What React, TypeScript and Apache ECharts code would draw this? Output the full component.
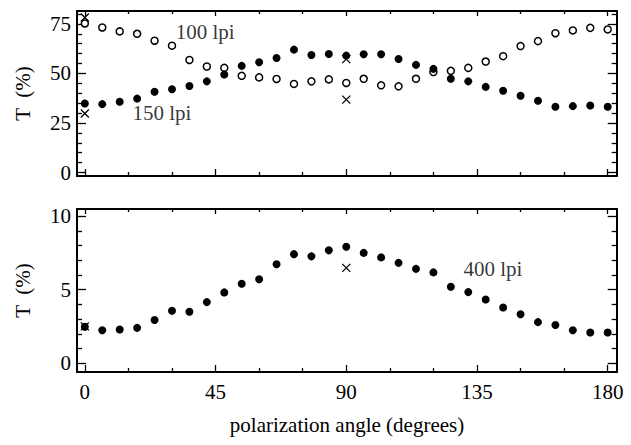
import React, { useEffect, useRef } from "react";
import * as echarts from "echarts";

// polarization angle (degrees)
const angles = [0, 6, 12, 18, 24, 30, 36, 42, 48, 54, 60, 66, 72, 78, 84, 90, 96, 102, 108, 114, 120, 126, 132, 138, 144, 150, 156, 162, 168, 174, 180];

// top panel: 100 lpi (open circles), 150 lpi (filled)
const t100 = [75.2, 73.2, 71.2, 70, 66.5, 64, 56.8, 53.5, 52.8, 48.8, 48, 47.2, 44.7, 46, 47, 45.2, 47.3, 44, 43.5, 47.3, 50.7, 51.3, 52.8, 56, 58.7, 63.8, 66.3, 70.3, 71.7, 73, 72.2];
const t150 = [34.8, 34.5, 35.7, 37.3, 40.8, 42, 43.7, 46, 49.5, 53.8, 55.6, 57.8, 62, 59.3, 59.8, 59, 59.7, 59.7, 57.3, 54.3, 52.3, 47.3, 46, 43.2, 41.3, 38.7, 36.2, 33.2, 33.5, 33.8, 33.2];
const topCrosses = [[0, 78.2], [0, 29.8], [90, 57.2], [90, 36.8]];

// bottom panel: 400 lpi
const t400 = [2.47, 2.24, 2.29, 2.4, 2.93, 3.56, 3.49, 4.15, 4.81, 5.4, 5.71, 6.73, 7.41, 7.26, 7.67, 7.91, 7.5, 7.19, 6.82, 6.41, 6.17, 5.19, 4.83, 4.33, 3.79, 3.33, 2.79, 2.59, 2.24, 2.09, 2.09];
const bottomCrosses = [[0, 2.5], [90, 6.48]];

// annotations [x, y, text]
const topNotes: [number, number, string][] = [[31.1, 71, "100 lpi"], [16.2, 30.2, "150 lpi"]];
const bottomNotes: [number, number, string][] = [[130.2, 6.4, "400 lpi"]];

// ticks
const xMajor = [0, 45, 90, 135, 180];
const xMinor = [15, 30, 60, 75, 105, 120, 150, 165];
const topYMajor = [0, 25, 50, 75];
const topYMinor = [5, 10, 15, 20, 30, 35, 40, 45, 55, 60, 65, 70, 80];
const botYMajor = [0, 5, 10];
const botYMinor = [1, 2, 3, 4, 6, 7, 8, 9];

const FONT = "Liberation Serif";
const X_MIN = -2.7;
const X_MAX = 183.1;

function App() {
  const ref = useRef<HTMLDivElement>(null);
  useEffect(() => {
    if (!ref.current) return;
    const chart = echarts.init(ref.current, undefined, { renderer: "svg" });

    const axisBase = (
      gridIndex: number,
      position: string,
      min: number,
      max: number,
      ticks: number[],
      len: number,
      showLine: boolean,
      labels: number[] | null
    ) => ({
      type: "value",
      gridIndex,
      position,
      min,
      max,
      splitLine: { show: false },
      axisLine: { show: showLine, onZero: false, lineStyle: { color: "#000", width: 2 } },
      axisTick: { show: true, inside: true, length: len, customValues: ticks, lineStyle: { color: "#000", width: 1.3 } },
      axisLabel: labels
        ? { show: true, customValues: labels, color: "#000", fontFamily: FONT, fontSize: 21, margin: position === "bottom" ? 9 : 6 }
        : { show: false },
    });

    const xAxes: any[] = [];
    const yAxes: any[] = [];
    [0, 1].forEach((g) => {
      xAxes.push(axisBase(g, "bottom", X_MIN, X_MAX, xMajor, 7, true, g === 1 ? xMajor : null));
      xAxes.push(axisBase(g, "bottom", X_MIN, X_MAX, xMinor, 4, false, null));
      xAxes.push(axisBase(g, "top", X_MIN, X_MAX, xMajor, 5, true, null));
      xAxes.push(axisBase(g, "top", X_MIN, X_MAX, xMinor, 3, false, null));
      const yMin = g === 0 ? -1.75 : -0.6;
      const yMax = g === 0 ? 81.5 : 10.48;
      const maj = g === 0 ? topYMajor : botYMajor;
      const mnr = g === 0 ? topYMinor : botYMinor;
      yAxes.push(axisBase(g, "left", yMin, yMax, maj, 9, true, maj));
      yAxes.push(axisBase(g, "left", yMin, yMax, mnr, 5, false, null));
      yAxes.push(axisBase(g, "right", yMin, yMax, maj, 9, true, null));
      yAxes.push(axisBase(g, "right", yMin, yMax, mnr, 5, false, null));
    });

    const cross = "path://M0,0L10,10M0,10L10,0";
    const pair = (ys: number[]) => angles.map((a, i) => [a, ys[i]]);
    const noteSeries = (g: number, notes: [number, number, string][]) => ({
      type: "scatter",
      xAxisIndex: g * 4,
      yAxisIndex: g * 4,
      symbolSize: 1,
      itemStyle: { color: "rgba(0,0,0,0)" },
      data: notes.map((n) => ({ value: [n[0], n[1]], name: n[2] })),
      label: {
        show: true,
        position: "right",
        distance: 0,
        formatter: (p: any) => p.name,
        color: "#000",
        fontFamily: FONT,
        fontSize: 21,
      },
      z: 5,
    });

    chart.setOption({
      animation: false,
      backgroundColor: "#fff",
      grid: [
        { left: 77, right: 14.3, top: 11, height: 165, outerBoundsMode: "none" },
        { left: 77, right: 14.3, top: 209, height: 163, outerBoundsMode: "none" },
      ],
      xAxis: xAxes,
      yAxis: yAxes,
      series: [
        {
          type: "scatter",
          xAxisIndex: 0,
          yAxisIndex: 0,
          data: pair(t100),
          symbol: "circle",
          symbolSize: 7,
          itemStyle: { color: "#fff", borderColor: "#000", borderWidth: 1.5, opacity: 1 },
        },
        {
          type: "scatter",
          xAxisIndex: 0,
          yAxisIndex: 0,
          data: pair(t150),
          symbol: "circle",
          symbolSize: 8,
          itemStyle: { color: "#000", opacity: 1 },
        },
        {
          type: "scatter",
          xAxisIndex: 0,
          yAxisIndex: 0,
          data: topCrosses,
          symbol: cross,
          symbolSize: 8,
          itemStyle: { color: "none", borderColor: "#000", borderWidth: 1.3, opacity: 1 },
        },
        {
          type: "scatter",
          xAxisIndex: 4,
          yAxisIndex: 4,
          data: pair(t400),
          symbol: "circle",
          symbolSize: 8,
          itemStyle: { color: "#000", opacity: 1 },
        },
        {
          type: "scatter",
          xAxisIndex: 4,
          yAxisIndex: 4,
          data: bottomCrosses,
          symbol: cross,
          symbolSize: 8,
          itemStyle: { color: "none", borderColor: "#000", borderWidth: 1.3, opacity: 1 },
        },
        noteSeries(0, topNotes),
        noteSeries(1, bottomNotes),
      ],
      graphic: [
        {
          type: "text",
          x: 23,
          y: 93.5,
          rotation: Math.PI / 2,
          style: { text: "T  (%)", fill: "#000", font: `21px "${FONT}"`, textAlign: "center", textVerticalAlign: "middle" },
        },
        {
          type: "text",
          x: 23,
          y: 290.5,
          rotation: Math.PI / 2,
          style: { text: "T  (%)", fill: "#000", font: `21px "${FONT}"`, textAlign: "center", textVerticalAlign: "middle" },
        },
        {
          type: "text",
          x: 347,
          y: 425,
          style: { text: "polarization angle (degrees)", fill: "#000", font: `21px "${FONT}"`, textAlign: "center", textVerticalAlign: "middle" },
        },
      ],
    });
    return () => chart.dispose();
  }, []);
  return <div ref={ref} style={{ position: "fixed", left: 0, top: 0, width: 631, height: 445 }} />;
}

export default App;
